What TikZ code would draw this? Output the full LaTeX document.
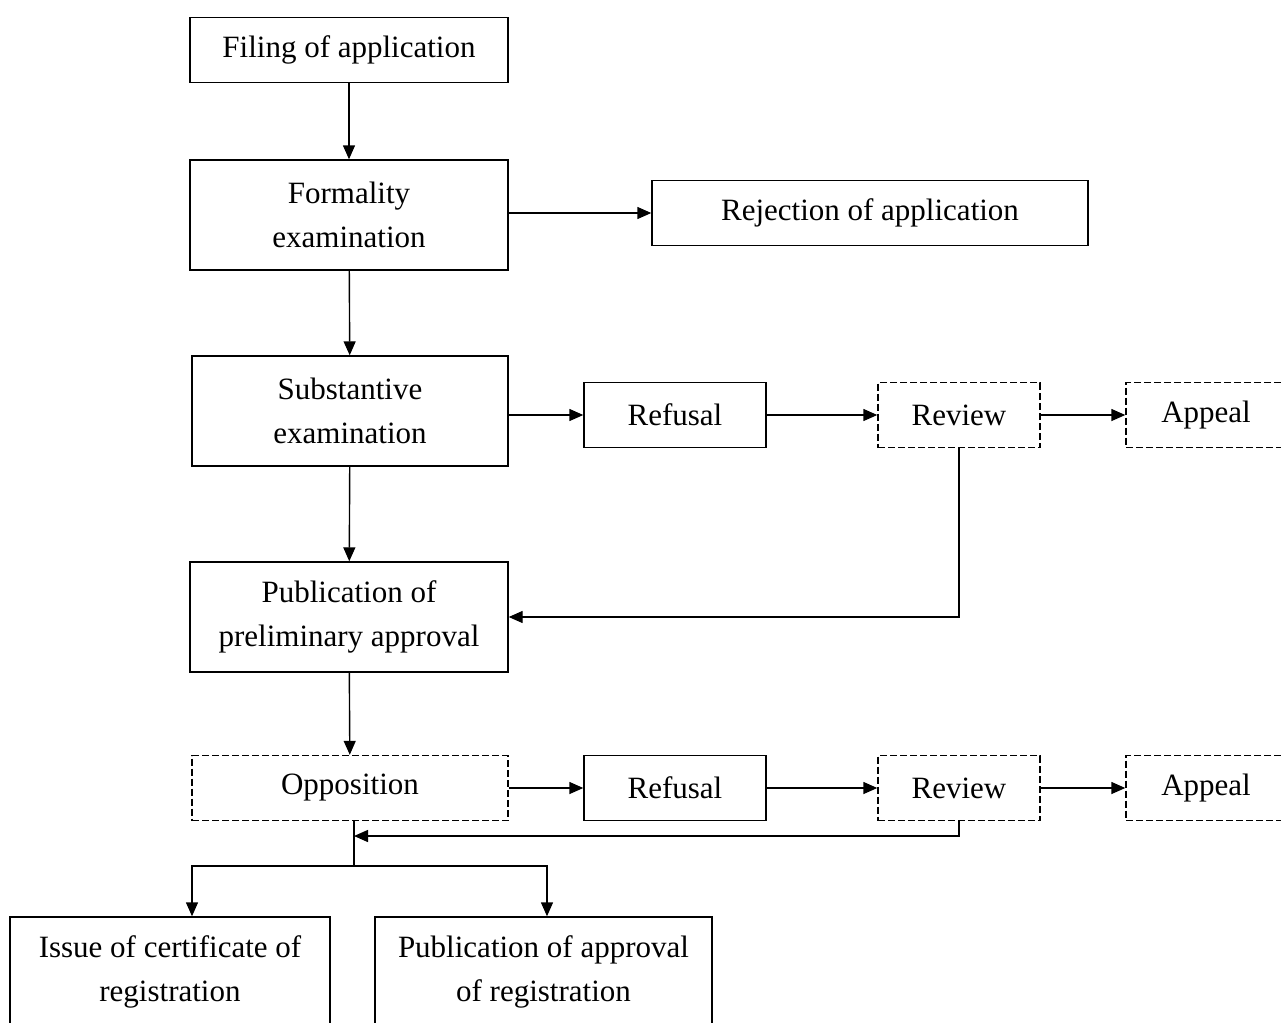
\documentclass[tikz,border=0pt]{standalone}
\usepackage{fontspec}
\setmainfont{Liberation Serif}
\usetikzlibrary{arrows.meta, positioning}

\begin{document}
\begin{tikzpicture}[x=0.5pt, y=-0.5pt,
  box/.style={draw, line width=0.7pt, align=center, inner sep=0pt, font=\fontsize{15.5}{22}\selectfont},
  tall/.style={box, minimum height=55pt},
  short/.style={box, minimum height=32.5pt},
  dashbox/.style={short, dash pattern=on 3.5pt off 1.5pt},
  arr/.style={-{Triangle[length=7pt, width=6pt]}, line width=0.7pt},
  line/.style={line width=0.7pt}]
\useasboundingbox (0,0) rectangle (1281,1023);
\clip (0,0) rectangle (1281,1023);

% Main column
\node[short, minimum width=159pt] (filing) at (349,50) {Filing of application};
\node[tall, minimum width=159pt] (formal) at (349,215) {Formality\\examination};
\node[short, minimum width=218pt] (reject) at (870,213) {Rejection of application};
\node[tall, minimum width=158pt] (subst) at (350,411) {Substantive\\examination};
\node[tall, minimum width=159pt] (prelim) at (349,617) {Publication of\\preliminary approval};
\node[dashbox, minimum width=158pt] (oppos) at (350,788) {Opposition};

% Refusal branches
\node[short, minimum width=91pt] (refA) at (675,415) {Refusal};
\node[dashbox, minimum width=81pt] (revA) at (959,415) {Review};
\node[dashbox, minimum width=80pt] (appA) at (1206,415) {Appeal};
\node[short, minimum width=91pt] (refB) at (675,788) {Refusal};
\node[dashbox, minimum width=81pt] (revB) at (959,788) {Review};
\node[dashbox, minimum width=80pt] (appB) at (1206,788) {Appeal};

% Outcomes
\node[tall, minimum width=160pt] (issue) at (170,972) {Issue of certificate of\\registration};
\node[tall, minimum width=168.5pt] (pubreg) at (543.5,972) {Publication of approval\\of registration};

% Arrows
\draw[arr] (filing) -- (formal);
\draw[arr] (formal.east |- reject.west) -- (reject.west);
\draw[arr] (formal) -- (subst);
\draw[arr] (subst.east |- refA.west) -- (refA.west);
\draw[arr] (refA) -- (revA);
\draw[arr] (revA) -- (appA);
\draw[arr] (revA.south) |- (prelim.east);
\draw[arr] (subst) -- (prelim);
\draw[arr] (prelim) -- (oppos);
\draw[arr] (oppos) -- (refB);
\draw[arr] (refB) -- (revB);
\draw[arr] (revB) -- (appB);

\coordinate (join) at (354,836);
\coordinate (split) at (354,866);
\coordinate (splitL) at (192,866);
\coordinate (splitR) at (547,866);
\draw[arr] (revB.south) |- (join);
\draw[line] (oppos.south -| join) -- (split);
\draw[arr] (split) -| (splitL |- issue.north);
\draw[arr] (split) -| (splitR |- pubreg.north);
\end{tikzpicture}
\end{document}
